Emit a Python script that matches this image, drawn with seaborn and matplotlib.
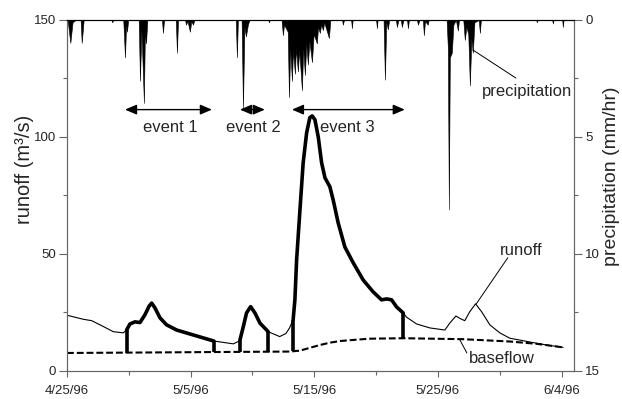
import numpy as np
import pandas as pd
import matplotlib
matplotlib.use("Agg")
import matplotlib.pyplot as plt
import seaborn as sns

# --- data (days after 4/25/96) ---
runoff_day = [0.0, 0.25, 1.32, 2.0, 2.94, 3.74, 4.55, 4.82, 5.09, 5.5, 5.9, 6.3, 6.65, 6.85,
              7.11, 7.52, 8.06, 8.87, 10.21, 11.88, 13.45, 13.85, 13.99, 14.26, 14.52, 14.85,
              15.2, 15.6, 16.27, 17.2, 17.7, 18.0, 18.29, 18.43, 18.57, 18.84, 19.1, 19.38,
              19.64, 19.83, 20.05, 20.32, 20.59, 20.86, 21.26, 21.53, 21.93, 22.47, 23.15,
              23.95, 24.76, 25.44, 25.85, 26.25, 26.65, 27.19, 27.46, 28.27, 29.35, 30.56,
              30.96, 31.45, 31.83, 32.17, 32.58, 33.04, 33.52, 34.2, 35.0, 35.81, 37.43,
              38.78, 40.12]
runoff_cms = [23.8, 23.5, 22.1, 21.5, 19.0, 16.8, 16.3, 17.5, 20.1, 21.0, 20.7, 24.0, 27.8, 29.0,
              27.0, 22.7, 19.7, 17.5, 15.4, 12.8, 11.6, 12.6, 13.3, 19.0, 24.8, 27.5,
              24.8, 20.5, 16.8, 14.7, 16.0, 18.4, 22.0, 30.4, 47.5, 68.9, 89.0, 101.8,
              108.3, 109.0, 107.4, 100.0, 89.0, 82.6, 78.7, 73.0, 63.3, 53.0, 46.2,
              38.9, 33.8, 30.4, 30.8, 30.4, 27.4, 24.8, 23.0, 20.1, 18.4, 17.5,
              20.5, 23.5, 22.3, 21.5, 25.4, 28.7, 25.4, 19.7, 16.3, 14.0, 12.4,
              11.1, 10.1]

base_day = [0.0, 4.8, 11.9, 18.0, 18.84, 20.45, 21.26, 22.07, 23.69, 24.5, 27.2, 32.0, 35.8, 38.0, 40.12]
base_cms = [7.7, 7.85, 8.1, 8.3, 8.7, 11.1, 12.1, 12.8, 13.5, 13.8, 14.0, 13.6, 12.6, 11.6, 10.1]

precip_day = [0.05, 0.27, 0.45, 0.7, 1.1, 1.19, 1.35, 3.6, 3.65, 3.75,
              4.55, 4.69, 4.78, 4.85, 4.95, 5.8, 5.9, 6.02, 6.22, 6.3, 6.39, 6.5,
              7.68, 7.76, 7.85, 8.8, 8.89, 8.98, 9.55, 9.62, 9.75, 9.94, 10.05, 10.19, 10.3,
              13.65, 13.74, 13.82, 14.12, 14.23, 14.35, 14.47, 14.63, 14.75, 16.28, 16.33, 16.4,
              17.35, 17.46, 17.55, 17.85, 17.95, 18.05, 18.19, 18.28, 18.43, 18.52, 18.67, 18.78,
              19.0, 19.1, 19.24, 19.35, 19.48, 19.6, 19.81, 19.95, 20.21, 20.3, 20.45, 20.55,
              20.7, 20.8, 21.18, 21.3, 22.25, 22.31, 22.4, 22.98, 23.04, 23.1, 25.0, 25.06, 25.12,
              25.6, 25.71, 25.82, 25.95, 26.05, 26.6, 26.68, 26.8, 27.0, 27.08, 27.2, 27.5, 27.57, 27.65,
              28.3, 28.38, 28.5, 28.78, 28.86, 28.95, 29.18, 29.25,
              30.7, 30.8, 30.88, 30.96, 31.12, 31.25, 31.45, 31.61, 31.7,
              32.05, 32.17, 32.3, 32.45, 32.58, 32.7, 32.82, 32.95, 33.3, 33.39, 33.47,
              37.95, 38.0, 38.05, 39.24, 39.29, 39.35, 40.05, 40.1, 40.16, 41.0]
precip_mm = [0, 0.98, 0.1, 0, 0, 0.98, 0, 0, 0.1, 0,
             0, 1.6, 0.2, 0.5, 0, 0, 2.6, 0.4, 3.55, 0.5, 1.0, 0,
             0, 0.55, 0, 0, 1.4, 0, 0, 0.2, 0.05, 0.5, 0.05, 0.2, 0,
             0, 1.6, 0, 0, 3.75, 0.3, 0.7, 0.2, 0, 0, 0.1, 0,
             0, 0.65, 0.2, 0.5, 3.3, 1.2, 2.6, 1.3, 2.3, 1.2, 2.2, 1.3,
             3.0, 1.2, 2.35, 1.0, 1.9, 0.9, 1.8, 0.6, 1.0, 0.3, 0.55, 0.2,
             0.43, 0.1, 0.77, 0, 0, 0.2, 0, 0, 0.35, 0, 0, 0.35, 0,
             0, 2.55, 0.1, 0.4, 0, 0, 0.3, 0, 0, 0.3, 0, 0, 0.35, 0,
             0, 0.2, 0, 0, 0.65, 0.05, 0.2, 0,
             0, 1.2, 8.1, 1.6, 1.4, 0.2, 0, 0.45, 0,
             0, 0.85, 0.3, 0.6, 2.8, 0.8, 1.4, 0.1, 0, 0.55, 0,
             0, 0.1, 0, 0, 0.15, 0, 0, 0.3, 0, 0]

event_names = ["event 1", "event 2", "event 3"]
event_start = [4.82, 13.99, 18.29]
event_end = [11.88, 16.27, 27.19]
arrow_start = [4.69, 13.99, 18.19]
arrow_end = [11.72, 16.0, 27.32]
label_day = [8.33, 15.04, 22.7]

tick_days = [0, 10, 20, 30, 40]
tick_labels = ["4/25/96", "5/5/96", "5/15/96", "5/25/96", "6/4/96"]
minor_days = [5, 15, 25, 35]

t0 = pd.Timestamp("1996-04-25")
def to_date(d):
    return t0 + pd.to_timedelta(np.asarray(d, dtype=float), unit="D")

sns.set_style("ticks")
plt.rcParams["font.family"] = ["Liberation Sans", "DejaVu Sans"]

fig = plt.figure(figsize=(6.22, 3.99), dpi=100)
ax = fig.add_axes([0.1077, 0.0702, 0.8151, 0.8797])

rd = np.array(runoff_day)
rq = np.array(runoff_cms)
df = pd.DataFrame({"date": to_date(rd), "q": rq})
dfb = pd.DataFrame({"date": to_date(base_day), "q": base_cms})

sns.lineplot(data=df, x="date", y="q", ax=ax, color="black", lw=0.8)
sns.lineplot(data=dfb, x="date", y="q", ax=ax, color="black", lw=1.5,
             linestyle=(0, (3.3, 1.4)))

for s, e in zip(event_start, event_end):
    m = (rd >= s) & (rd <= e)
    sns.lineplot(x=df["date"][m], y=rq[m], ax=ax, color="black", lw=2.6)
    ys = np.interp([s, e], base_day, base_cms)
    ye = np.interp([s, e], runoff_day, runoff_cms)
    ax.vlines(to_date([s, e]), ys, ye, color="black", lw=2.6)

for name, a, b, c in zip(event_names, arrow_start, arrow_end, label_day):
    ax.annotate("", xy=(to_date(b), 111.7), xytext=(to_date(a), 111.7),
                arrowprops=dict(arrowstyle="<|-|>,head_length=0.7,head_width=0.3",
                                color="black", lw=1, shrinkA=0, shrinkB=0))
    ax.text(to_date(c), 104.2, name, ha="center", va="center", fontsize=12)

# leader lines + labels
ax.annotate("", xy=(to_date(32.82), 137.2), xytext=(to_date(36.3), 125.2),
            arrowprops=dict(arrowstyle="-", color="black", lw=0.7, shrinkA=0, shrinkB=0))
ax.text(to_date(33.55), 119.3, "precipitation", ha="left", va="center", fontsize=12)
ax.annotate("", xy=(to_date(33.1), 28.7), xytext=(to_date(35.65), 48.4),
            arrowprops=dict(arrowstyle="-", color="black", lw=0.7, shrinkA=0, shrinkB=0))
ax.text(to_date(35.0), 51.6, "runoff", ha="left", va="center", fontsize=12)
ax.annotate("", xy=(to_date(31.77), 13.3), xytext=(to_date(32.34), 7.7),
            arrowprops=dict(arrowstyle="-", color="black", lw=0.7, shrinkA=0, shrinkB=0))
ax.text(to_date(32.5), 5.5, "baseflow", ha="left", va="center", fontsize=12)

ax.set_xlim(to_date(0), to_date(41))
ax.set_ylim(0, 150)
ax.set_xticks(to_date(tick_days))
ax.set_xticklabels(tick_labels)
ax.set_xticks(to_date(minor_days), minor=True)
ax.set_yticks([0, 50, 100, 150])
ax.set_yticks([25, 75, 125], minor=True)
ax.set_xlabel("")
ax.set_ylabel("runoff (m\u00b3/s)", fontsize=14.5)
ax.yaxis.set_label_coords(-0.066, 0.573)

ax2 = ax.twinx()
ax2.fill_between(to_date(precip_day), precip_mm, 0, color="black", lw=0.4)
ax2.set_ylim(15, 0)
ax2.set_yticks([0, 5, 10, 15])
ax2.set_yticks([2.5, 7.5, 12.5], minor=True)
ax2.set_ylabel("precipitation (mm/hr)", fontsize=14)
ax2.yaxis.set_label_coords(1.057, 0.555)
ax2.set_xlim(to_date(0), to_date(41))

grey = "#666666"
for a in (ax, ax2):
    for sp in a.spines.values():
        sp.set_color(grey)
        sp.set_linewidth(0.8)
    a.spines["top"].set_color("black")
    a.tick_params(which="major", length=6, width=0.8, color=grey, labelsize=9.5, pad=2)
    a.tick_params(which="minor", length=3, width=0.8, color=grey)
ax.tick_params(axis="x", which="major", length=4, pad=6)

fig.savefig("out.png", dpi=100)
